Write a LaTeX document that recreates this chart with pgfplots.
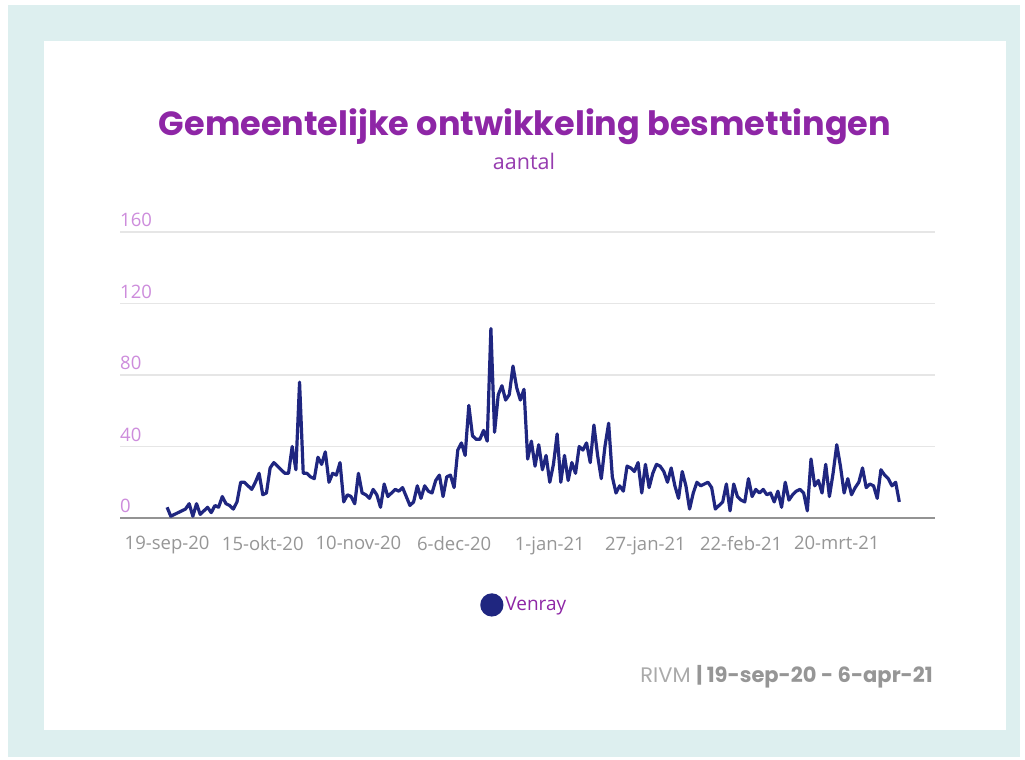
\documentclass[border=0pt]{standalone}
\usepackage{fontspec}
\setmainfont{Open Sans}
\newfontfamily\poppins{Poppins}
\usepackage{pgfplots}
\pgfplotsset{compat=1.18}
\definecolor{navy}{RGB}{31,38,128}
\definecolor{ttl}{RGB}{142,38,166}
\definecolor{sub}{RGB}{150,60,175}
\definecolor{tealbg}{RGB}{221,239,239}
\definecolor{ytk}{RGB}{205,140,220}
\definecolor{xtk}{RGB}{150,150,150}
\definecolor{gridc}{RGB}{230,230,230}
\definecolor{footl}{RGB}{170,170,170}
\definecolor{footd}{RGB}{150,150,150}
\begin{document}
\begin{tikzpicture}[x=1pt,y=1pt]
\useasboundingbox (0,0) rectangle (1025,760);
\fill[white] (0,0) rectangle (1025,760);
\fill[tealbg] (8,3) rectangle (1020,755);
\fill[white] (44,30) rectangle (1006,719);
\node[anchor=base, text=ttl, font=\poppins\bfseries\fontsize{33.5}{33.5}\selectfont] at (525,624) {Gemeentelijke ontwikkeling besmettingen};
\node[anchor=base, text=sub, font=\fontsize{21.5}{21.5}\selectfont] at (524,590) {aantal};
\node[anchor=base east, font=\poppins\fontsize{21}{21}\selectfont, inner sep=0pt] at (933,77) {\textcolor{footl}{RIVM} \textcolor{footd}{\bfseries| 19-sep-20 - 6-apr-21}};
\begin{axis}[
  at={(120pt,242pt)}, anchor=south west,
  scale only axis, width=815pt, height=286pt,
  xmin=-12.8, xmax=208.7, ymin=0, ymax=160,
  axis x line*=bottom, axis y line*=left,
  x axis line style={draw=gray!85, line width=1.6pt, -},
  y axis line style={draw=none},
  major tick length=0pt,
  xtick={0,26,52,78,104,130,156,182},
  xticklabels={19-sep-20,15-okt-20,10-nov-20,6-dec-20,1-jan-21,27-jan-21,22-feb-21,20-mrt-21},
  xticklabel style={font=\fontsize{18.5}{18.5}\selectfont, text=xtk, yshift=-15pt},
  ytick={0,40,80,120,160},
  /pgf/number format/assume math mode=true,
  yticklabel style={font=\fontsize{18.5}{18.5}\selectfont, text=ytk, anchor=south west, inner sep=0pt, yshift=5pt},
  ymajorgrids, grid style={draw=gridc, line width=1.2pt},
  legend style={at={(0.496,-0.304)}, anchor=center, draw=none, fill=none, font=\fontsize{19}{19}\selectfont, text=ttl},
  legend image code/.code={\fill[navy] (0.3cm,0pt) circle (10pt);},
]
\addplot[navy, line width=3.2pt, line join=round] coordinates {
(0,6)(1,1)(2,2)(3,3)(4,4)(5,5)(6,8)(7,1)(8,8)(9,2)
(10,4)(11,6)(12,3)(13,7)(14,6)(15,12)(16,8)(17,7)(18,5)(19,9)
(20,20)(21,20)(22,18)(23,16)(24,20)(25,25)(26,13)(27,14)(28,28)(29,31)
(30,29)(31,27)(32,25)(33,25)(34,40)(35,27)(36,76)(37,25)(38,25)(39,23)
(40,22)(41,34)(42,30)(43,37)(44,20)(45,25)(46,24)(47,31)(48,9)(49,13)
(50,12)(51,8)(52,25)(53,14)(54,13)(55,11)(56,16)(57,13)(58,6)(59,19)
(60,12)(61,14)(62,16)(63,15)(64,17)(65,12)(66,7)(67,9)(68,18)(69,11)
(70,18)(71,15)(72,14)(73,21)(74,24)(75,12)(76,23)(77,24)(78,17)(79,38)
(80,42)(81,35)(82,63)(83,46)(84,44)(85,44)(86,49)(87,43)(88,106)(89,48)
(90,69)(91,74)(92,66)(93,69)(94,85)(95,73)(96,66)(97,72)(98,33)(99,43)
(100,29)(101,41)(102,27)(103,35)(104,20)(105,30)(106,47)(107,20)(108,35)(109,21)
(110,31)(111,25)(112,40)(113,38)(114,42)(115,31)(116,52)(117,35)(118,22)(119,40)
(120,53)(121,23)(122,14)(123,18)(124,15)(125,29)(126,28)(127,26)(128,31)(129,14)
(130,30)(131,17)(132,25)(133,30)(134,29)(135,26)(136,20)(137,28)(138,18)(139,11)
(140,26)(141,18)(142,5)(143,14)(144,20)(145,18)(146,19)(147,20)(148,17)(149,5)
(150,7)(151,9)(152,19)(153,4)(154,19)(155,12)(156,10)(157,9)(158,22)(159,12)
(160,16)(161,14)(162,16)(163,13)(164,14)(165,9)(166,15)(167,6)(168,20)(169,10)
(170,13)(171,15)(172,16)(173,14)(174,4)(175,33)(176,18)(177,21)(178,14)(179,30)
(180,12)(181,25)(182,41)(183,29)(184,14)(185,22)(186,13)(187,17)(188,20)(189,28)
(190,17)(191,19)(192,18)(193,11)(194,27)(195,24)(196,22)(197,18)(198,20)(199,9)
};
\addlegendentry{Venray}
\end{axis}
\end{tikzpicture}
\end{document}
